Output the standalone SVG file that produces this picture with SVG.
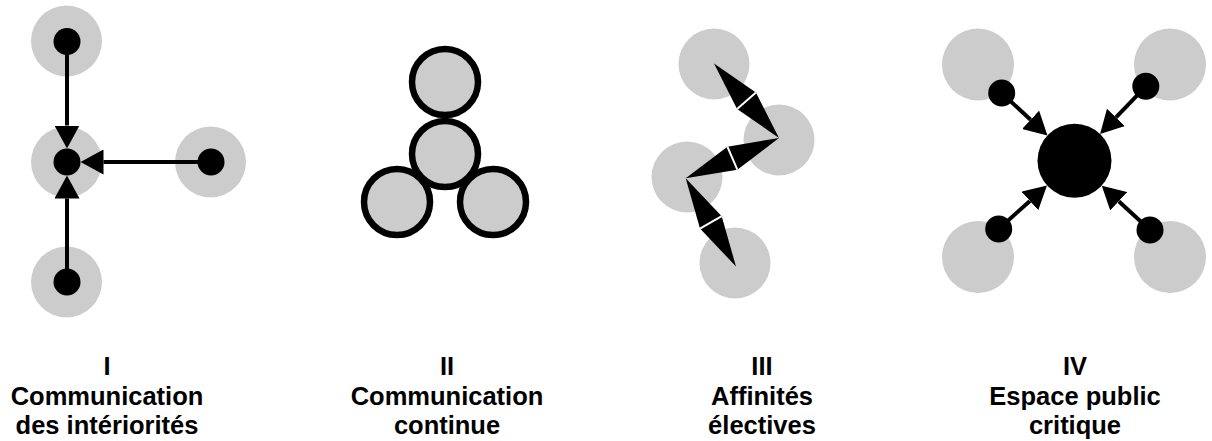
<svg xmlns="http://www.w3.org/2000/svg" width="1212" height="441" viewBox="0 0 1212 441">
  <defs>
    <style>
      .halo { fill: #cccccc; }
      .dot { fill: #000000; }
      .ring { fill: #cccccc; stroke: #000000; stroke-width: 6.5; }
      .edge { stroke: #000000; stroke-width: 4; fill: none; }
      .kite { fill: #000000; }
      .sep { stroke: #ffffff; stroke-width: 2; }
      .label { font-family: "Liberation Sans", Arial, sans-serif; font-weight: bold; font-size: 25.5px; fill: #000000; text-anchor: middle; }
    </style>
    <marker id="arrow" viewBox="0 0 23 25" refX="0" refY="12.5" markerWidth="23" markerHeight="25" markerUnits="userSpaceOnUse" orient="auto">
      <path d="M0,0 L23,12.5 L0,25 Z" fill="#000000"/>
    </marker>
  </defs>
  <rect width="1212" height="441" fill="#ffffff"/>

  <!-- Panel I -->
  <g id="p1-halos">
    <circle class="halo" cx="66.5" cy="41" r="35.5"/>
    <circle class="halo" cx="66.5" cy="162" r="35.5"/>
    <circle class="halo" cx="210.5" cy="162" r="35.5"/>
    <circle class="halo" cx="66.5" cy="282" r="35.5"/>
  </g>
  <g id="p1-connectors">
    <line class="edge" x1="67" y1="41.5" x2="67" y2="125.5" marker-end="url(#arrow)"/>
    <line class="edge" x1="211" y1="162" x2="103.5" y2="162" marker-end="url(#arrow)"/>
    <line class="edge" x1="67" y1="282" x2="67" y2="198.5" marker-end="url(#arrow)"/>
  </g>
  <g id="p1-node-top"><circle class="dot" cx="67" cy="41.5" r="13.5"/></g>
  <g id="p1-node-center"><circle class="dot" cx="67" cy="162" r="13.5"/></g>
  <g id="p1-node-right"><circle class="dot" cx="211" cy="162" r="13.5"/></g>
  <g id="p1-node-bottom"><circle class="dot" cx="67" cy="282" r="13.5"/></g>

  <!-- Panel II -->
  <g id="p2-node-bl"><circle class="ring" cx="397" cy="202" r="33"/></g>
  <g id="p2-node-br"><circle class="ring" cx="493" cy="202" r="33"/></g>
  <g id="p2-node-top"><circle class="ring" cx="445" cy="82" r="33"/></g>
  <g id="p2-node-mid"><circle class="ring" cx="445" cy="154" r="33"/></g>

  <!-- Panel III -->
  <g id="p3-node-a"><circle class="halo" cx="714" cy="64" r="35.5"/></g>
  <g id="p3-node-b"><circle class="halo" cx="779" cy="140" r="35.5"/></g>
  <g id="p3-node-c"><circle class="halo" cx="687" cy="177" r="35.5"/></g>
  <g id="p3-node-d"><circle class="halo" cx="735" cy="263" r="35.5"/></g>
  <g id="p3-connectors">
    <polygon class="kite" points="714,63.5 737.09,108.96 779,138 755.91,92.54"/>
    <line class="sep" x1="737.09" y1="108.96" x2="755.91" y2="92.54"/>
    <polygon class="kite" points="779,138 727.39,146.68 685.7,178.3 737.31,169.63"/>
    <line class="sep" x1="727.39" y1="146.68" x2="737.31" y2="169.63"/>
    <polygon class="kite" points="685.7,178.3 699.99,228.59 736,266.5 721.71,216.21"/>
    <line class="sep" x1="699.99" y1="228.59" x2="721.71" y2="216.21"/>
  </g>

  <!-- Panel IV -->
  <g id="p4-halos">
    <circle class="halo" cx="978" cy="64.5" r="36"/>
    <circle class="halo" cx="1170" cy="64.5" r="36"/>
    <circle class="halo" cx="978" cy="257" r="36"/>
    <circle class="halo" cx="1170" cy="257" r="36"/>
  </g>
  <g id="p4-connectors">
    <line class="edge" x1="1001.7" y1="93" x2="1030.6" y2="119.8" marker-end="url(#arrow)"/>
    <line class="edge" x1="1145.8" y1="86.3" x2="1116" y2="117.4" marker-end="url(#arrow)"/>
    <line class="edge" x1="998.7" y1="229" x2="1029.9" y2="200.9" marker-end="url(#arrow)"/>
    <line class="edge" x1="1150" y1="230" x2="1118.7" y2="201.2" marker-end="url(#arrow)"/>
  </g>
  <g id="p4-node-center"><circle class="dot" cx="1074.5" cy="160.7" r="37"/></g>
  <g id="p4-node-tl"><circle class="dot" cx="1001.7" cy="93" r="13.5"/></g>
  <g id="p4-node-tr"><circle class="dot" cx="1145.8" cy="86.3" r="13.5"/></g>
  <g id="p4-node-bl"><circle class="dot" cx="998.7" cy="229" r="13.5"/></g>
  <g id="p4-node-br"><circle class="dot" cx="1150" cy="230" r="13.5"/></g>

  <!-- Labels -->
  <g id="labels">
    <text class="label"><tspan x="107" y="375">I</tspan><tspan x="107" y="405">Communication</tspan><tspan x="107" y="434">des intériorités</tspan></text>
    <text class="label"><tspan x="447" y="375">II</tspan><tspan x="447" y="405">Communication</tspan><tspan x="447" y="434">continue</tspan></text>
    <text class="label"><tspan x="762" y="375">III</tspan><tspan x="762" y="405">Affinités</tspan><tspan x="762" y="434">électives</tspan></text>
    <text class="label"><tspan x="1075" y="375">IV</tspan><tspan x="1075" y="405">Espace public</tspan><tspan x="1075" y="434">critique</tspan></text>
  </g>
</svg>
